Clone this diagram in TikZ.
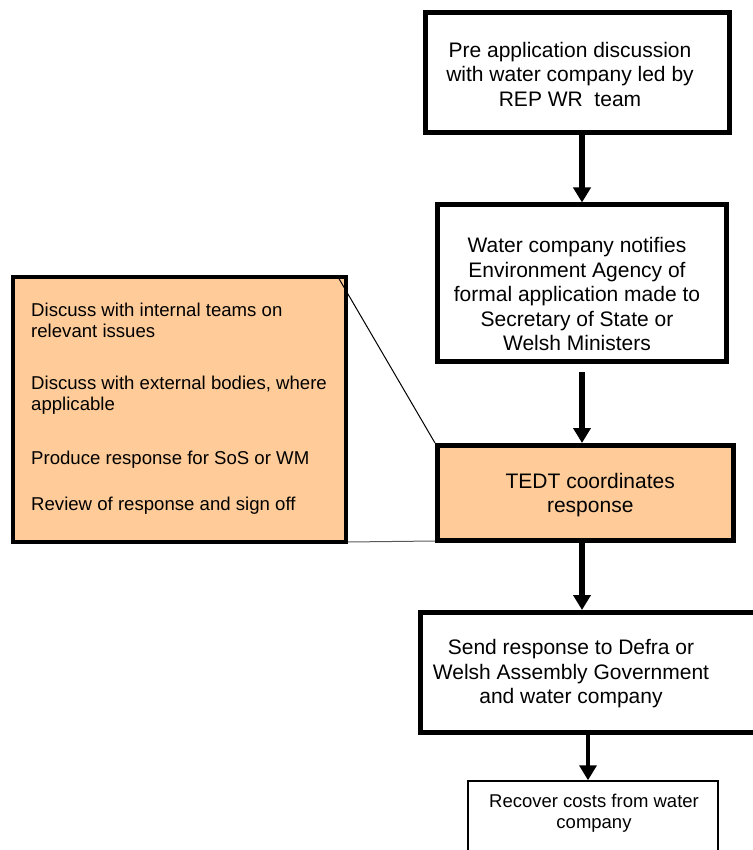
\documentclass[tikz,border=0pt]{standalone}
\usepackage{fontspec}
\setmainfont{Liberation Sans}
\usetikzlibrary{positioning, arrows.meta}

\definecolor{peach}{HTML}{FFCC99}

\begin{document}
\begin{tikzpicture}
[
    x=1pt, y=-1pt,
    % Boxes are named after their step: pre, notify, tedt, send, recover
    % The notes box on the left is tied to tedt by two thin lines
    % Box texts sit in labels, so they can be nudged off the box centre
]

%=================================== Start ===================================
\tikzstyle{step box}   = [draw, shape=rectangle, line width=5pt, inner sep=0pt]
\tikzstyle{last box}   = [draw, shape=rectangle, line width=1.5pt, inner sep=0pt]
\tikzstyle{note box}   = [draw, shape=rectangle, line width=4pt, fill=peach, inner sep=0pt]
\tikzstyle{big text}   = [align=center, inner sep=0pt, font=\fontsize{21}{24.5}\selectfont]
\tikzstyle{small text} = [align=center, inner sep=0pt, font=\fontsize{18.5}{20.5}\selectfont]
\tikzstyle{note text}  = [align=left, inner sep=0pt, font=\fontsize{18.6}{21}\selectfont]
\tikzstyle{flow}       = [line width=6pt, -{Triangle[width=17pt, length=15pt]}]
\tikzstyle{thin flow}  = [line width=3.5pt, -{Triangle[width=17pt, length=15pt]}]
\tikzstyle{callout}    = [line width=1pt]

\useasboundingbox (0,0) rectangle (752,850);

% the arrows of the main column run down this line
\coordinate (spine) at (582,0);

{
    % Main column
    \node[step box, minimum width=304, minimum height=120,
          label={[big text, name=pre-text, xshift=-7pt, yshift=-1.5pt]center:{Pre application discussion\\with water company led by\\REP WR\ \ team}}]
          (pre) at (577,72.5) {};
    \node[step box, minimum width=289, minimum height=156,
          label={[big text, name=notify-text, xshift=-5pt, yshift=-11pt]center:{Water company notifies\\Environment Agency of\\formal application made to\\Secretary of State or\\Welsh Ministers}}]
          (notify) at (582,283) {};
    \node[step box, fill=peach, minimum width=295.5, minimum height=95,
          label={[big text, name=tedt-text, xshift=5pt, yshift=-2pt]center:{TEDT coordinates\\response}}]
          (tedt) at (585.25,493) {};
    \node[step box, minimum width=380, minimum height=120,
          label={[big text, name=send-text, xshift=-39pt, yshift=-1.5pt]center:{Send response to Defra or\\Welsh Assembly Government\\and water company}}]
          (send) at (610,672.5) {};
    \node[last box, minimum width=250, minimum height=119,
          label={[small text, name=recover-text, xshift=1pt, yshift=27.5pt]center:{Recover costs from water\\company}}]
          (recover) at (593,840.5) {};

    % Notes box on the left
    \node[note box, minimum width=333, minimum height=265] (notes) at (179,409.5) {};
    \node[note text, anchor=north west] (notes-text) at (31,302.5)
        {Discuss with internal teams on\\
         relevant issues\\[31pt]
         Discuss with external bodies, where\\
         applicable\\[33pt]
         Produce response for SoS or WM\\[25pt]
         Review of response and sign off};

    % Connect the steps
    \foreach \src / \dst / \gap in {pre/notify/0, notify/tedt/8.5, tedt/send/0}
        \path (\src.south -| spine) edge[flow, shorten <=\gap pt] (\dst.north -| spine);
    \path ([xshift=-5pt]recover.north |- send.south) edge[thin flow] ([xshift=-5pt]recover.north);

    % Tie the notes to the tedt box
    \draw[callout] ([xshift=-9.5pt, yshift=-2pt]notes.north east) -- (tedt.north west);
    \draw[callout, gray!70!black] ([yshift=2pt]notes.south east) -- ([yshift=2pt]tedt.south west);
}
%==================================== END ====================================

\end{tikzpicture}
\end{document}
